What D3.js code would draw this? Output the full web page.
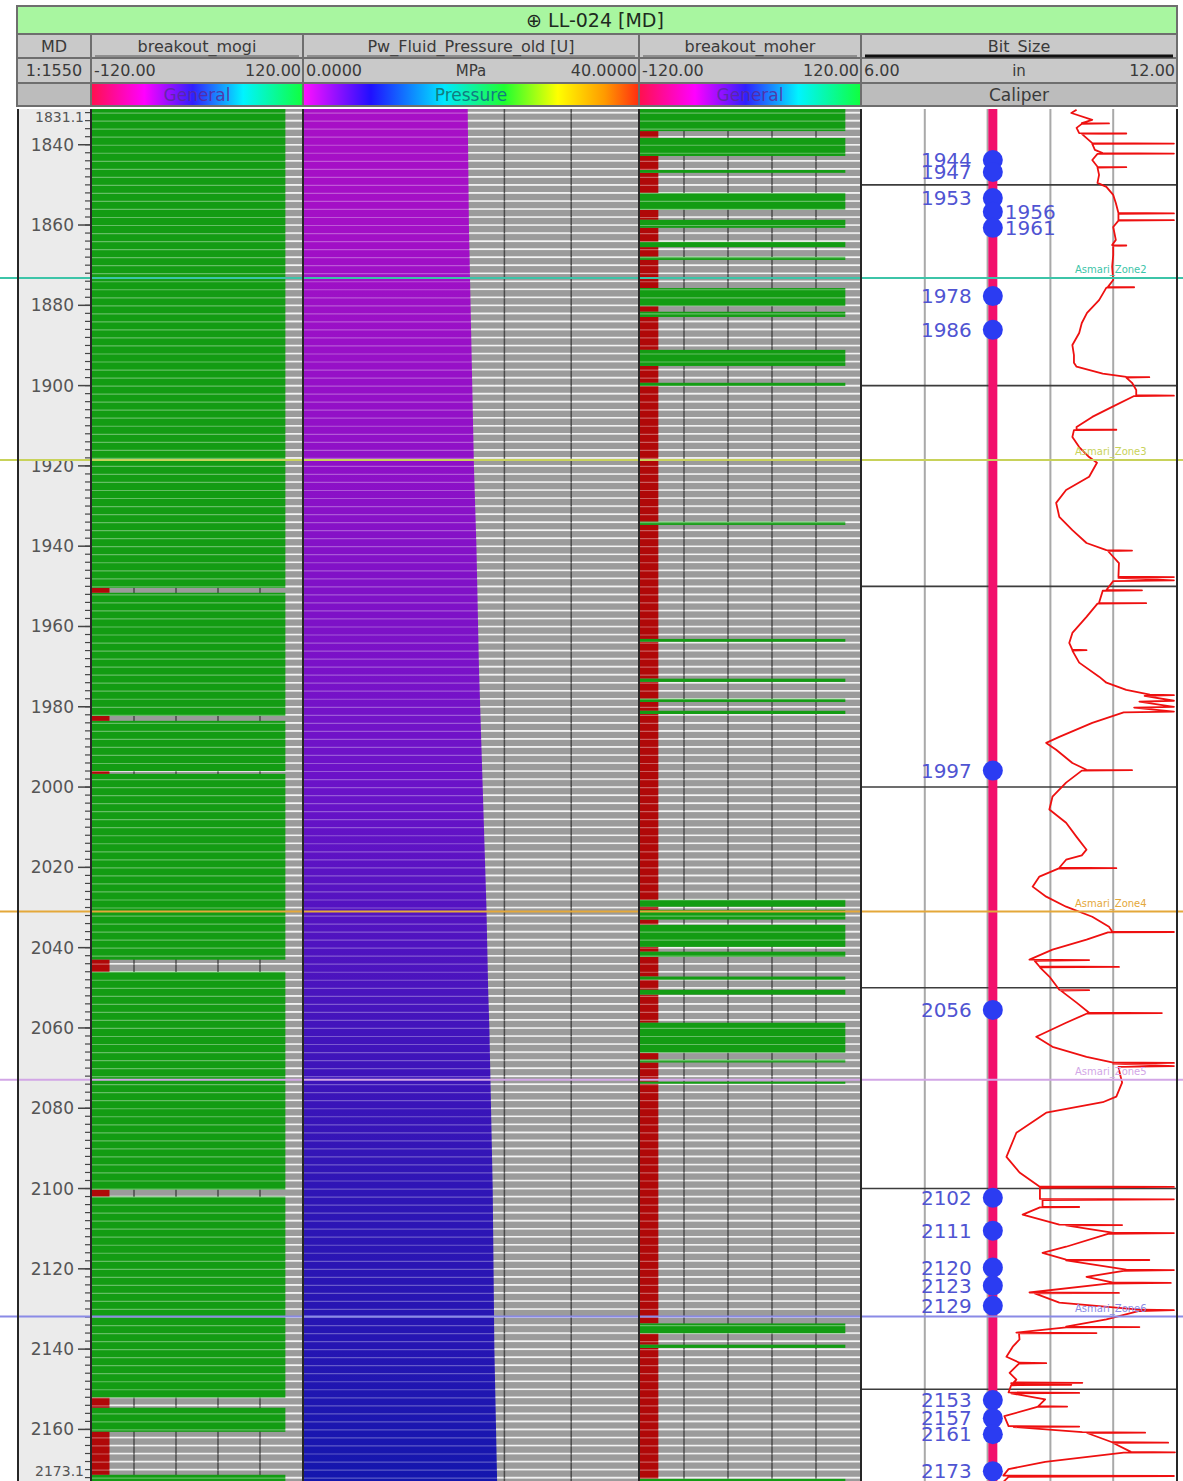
<!DOCTYPE html>
<html>
<head>
<meta charset="utf-8">
<script src="https://cdn.jsdelivr.net/npm/d3@7/dist/d3.min.js"></script>
<style>
body { margin: 0; background: #fff; }
svg { display: block; font-family: "DejaVu Sans", sans-serif; }
</style>
</head>
<body>
<div id="chart"></div>
<script>
// well / depth range
var wellName = "LL-024 [MD]";
var depthTop = 1831.1, depthBase = 2173.1;
var depthTicks = [1840, 1860, 1880, 1900, 1920, 1940, 1960, 1980, 2000, 2020, 2040, 2060, 2080, 2100, 2120, 2140, 2160];
var gridDepths = [1850, 1900, 1950, 2000, 2050, 2100, 2150];

// header
var trackNames = ["MD", "breakout_mogi", "Pw_Fluid_Pressure_old [U]", "breakout_moher", "Bit_Size"];
var scaleLeft = ["1:1550", "-120.00", "0.0000", "-120.00", "6.00"];
var scaleUnit = ["", "", "MPa", "", "in"];
var scaleRight = ["", "120.00", "40.0000", "120.00", "12.00"];
var paletteNames = ["", "General", "Pressure", "General", "Caliper"];

// breakout flags: +100 = breakout (green), -100 = none (red)
var breakoutYes = 101, breakoutNo = -100;
var mogiRedTop  = [1950.4, 1982.3, 1996.0, 2043.0, 2100.3, 2152.1, 2160.6];
var mogiRedBase = [1951.6, 1983.5, 1996.7, 2046.0, 2102.0, 2154.6, 2171.3];
var moherGreenTop  = [1831.1, 1838.3, 1846.3, 1852.0, 1858.7, 1864.2, 1867.9, 1875.7, 1881.6, 1891.1, 1899.3, 1933.9, 1963.1, 1973.0, 1978.0, 1981.0, 2028.1, 2030.6, 2034.3, 2041.0, 2047.2, 2050.5, 2058.7, 2067.9, 2073.4, 2133.6, 2138.9, 2172.3];
var moherGreenBase = [1836.6, 1842.8, 1847.0, 1856.2, 1860.7, 1865.5, 1868.7, 1880.2, 1882.9, 1895.1, 1900.1, 1934.7, 1963.8, 1973.8, 1978.8, 1981.8, 2029.8, 2033.0, 2039.8, 2042.3, 2048.0, 2051.7, 2066.2, 2068.6, 2073.9, 2136.1, 2139.7, 2173.1];

// fluid pressure (MPa)
var pressDepth = [1830, 1840, 1850, 1860, 1870, 1880, 1890, 1900, 1910, 1920, 1930, 1940, 1950, 1960, 1970, 1980, 1990, 2000, 2010, 2020, 2030, 2040, 2050, 2060, 2070, 2080, 2090, 2100, 2110, 2120, 2130, 2140, 2150, 2160, 2170, 2175];
var pressValue = [19.6, 19.65, 19.7, 19.75, 19.85, 19.95, 20.05, 20.15, 20.25, 20.35, 20.5, 20.65, 20.75, 20.85, 20.95, 21.1, 21.25, 21.4, 21.55, 21.7, 21.85, 21.95, 22.05, 22.2, 22.3, 22.4, 22.5, 22.6, 22.65, 22.7, 22.75, 22.8, 22.9, 23.0, 23.1, 23.15];

// bit size and caliper (in)
var bitSize = 8.5;
var caliper = [
  [1831.3, 10.1], [1832.1, 10.0], [1833.8, 10.4], [1834.6, 10.2], [1834.7, 10.72], [1834.8, 10.2], [1835.8, 10.1],
  [1837.1, 10.15], [1837.2, 11.05], [1837.3, 10.2], [1839.6, 10.4], [1839.7, 11.96], [1839.8, 10.4], [1841.3, 10.45],
  [1842.1, 10.6], [1842.2, 11.96], [1842.3, 10.5], [1843.8, 10.4], [1845.5, 10.5], [1845.6, 11.05], [1845.7, 10.5],
  [1847.5, 10.53], [1849.5, 10.5], [1850.5, 10.67], [1852.5, 10.8], [1854.5, 10.85], [1857.0, 10.9], [1857.1, 11.96],
  [1857.2, 10.9], [1858.7, 10.9], [1858.8, 11.96], [1858.9, 10.9], [1860.5, 10.8], [1863.7, 10.85], [1865.0, 10.78],
  [1865.1, 11.05], [1865.2, 10.8], [1867.5, 10.8], [1870.4, 10.78], [1873.7, 10.8], [1875.4, 10.7], [1875.5, 11.2],
  [1875.6, 10.67], [1878.7, 10.53], [1881.9, 10.3], [1884.4, 10.2], [1886.9, 10.15], [1889.9, 10.02], [1892.4, 10.05],
  [1894.3, 10.05], [1895.3, 10.1], [1897.0, 10.6], [1897.8, 11.05], [1897.9, 11.49], [1898.0, 11.05], [1899.3, 11.16],
  [1901.1, 11.24], [1902.4, 11.24], [1902.5, 11.96], [1902.6, 11.2], [1905.3, 10.78], [1907.8, 10.4], [1910.3, 10.1],
  [1910.9, 10.1], [1911.0, 10.86], [1911.1, 10.05], [1912.8, 10.02], [1915.3, 10.15], [1917.8, 10.34], [1919.2, 10.49],
  [1922.7, 10.34], [1926.0, 9.9], [1929.2, 9.71], [1932.7, 9.77], [1936.0, 10.02], [1939.2, 10.29], [1941.0, 10.67],
  [1941.1, 11.16], [1941.2, 10.7], [1944.2, 10.91], [1947.6, 10.9], [1947.7, 11.96], [1947.9, 10.9], [1948.5, 11.96],
  [1948.7, 10.8], [1950.9, 10.67], [1951.0, 11.35], [1951.1, 10.6], [1954.1, 10.53], [1954.2, 11.43], [1954.3, 10.5],
  [1957.6, 10.29], [1961.6, 10.02], [1964.1, 9.96], [1965.8, 10.02], [1965.9, 10.29], [1966.0, 10.02], [1969.0, 10.15],
  [1972.5, 10.53], [1974.0, 10.67], [1975.8, 11.05], [1977.0, 11.5], [1977.1, 11.96], [1977.3, 11.4], [1978.5, 11.96],
  [1978.7, 11.3], [1980.0, 11.96], [1980.2, 11.2], [1981.2, 11.96], [1981.4, 11.0], [1984.0, 10.4], [1987.5, 9.77],
  [1989.0, 9.52], [1990.7, 9.71], [1994.0, 10.02], [1995.7, 10.29], [1995.8, 11.16], [1995.9, 10.2], [1998.9, 9.9],
  [2002.4, 9.64], [2005.6, 9.58], [2008.9, 9.9], [2012.4, 10.1], [2015.6, 10.29], [2017.0, 10.2], [2018.1, 9.9],
  [2020.1, 9.77], [2020.2, 10.86], [2020.3, 9.75], [2022.3, 9.39], [2024.8, 9.26], [2027.3, 9.52], [2029.8, 9.9],
  [2032.3, 10.4], [2034.8, 10.72], [2036.0, 10.78], [2036.1, 11.96], [2036.2, 10.7], [2038.0, 10.29], [2040.5, 9.64],
  [2043.0, 9.2], [2043.1, 10.34], [2043.3, 9.3], [2044.7, 9.39], [2044.8, 10.91], [2044.9, 9.4], [2047.2, 9.58],
  [2050.5, 9.77], [2050.6, 10.34], [2050.7, 9.8], [2053.7, 10.1], [2056.2, 10.34], [2056.3, 11.73], [2056.4, 10.3],
  [2058.7, 9.9], [2062.2, 9.33], [2064.7, 9.64], [2067.2, 10.29], [2068.6, 10.78], [2068.7, 11.96], [2068.9, 10.8],
  [2069.5, 11.96], [2069.7, 10.9], [2070.4, 10.91], [2073.6, 10.97], [2077.1, 10.86], [2078.5, 10.6], [2081.1, 9.52],
  [2086.1, 8.95], [2092.1, 8.76], [2096.0, 9.01], [2099.5, 9.39], [2099.6, 11.96], [2099.8, 9.4], [2102.6, 9.4],
  [2102.7, 11.96], [2102.9, 9.45], [2104.5, 9.45], [2104.6, 10.15], [2104.7, 9.4], [2106.5, 9.07], [2109.0, 9.77],
  [2109.1, 10.97], [2109.2, 9.9], [2111.0, 10.78], [2111.1, 11.96], [2111.3, 10.7], [2114.5, 9.9], [2116.0, 9.45],
  [2117.7, 9.9], [2117.8, 11.49], [2117.9, 9.9], [2120.2, 11.05], [2120.3, 11.96], [2120.5, 11.0], [2122.0, 10.29],
  [2123.4, 10.78], [2123.5, 11.9], [2123.7, 10.7], [2125.9, 9.2], [2126.0, 10.91], [2126.1, 9.3], [2128.4, 9.77],
  [2130.2, 11.35], [2130.3, 11.96], [2130.5, 11.3], [2132.6, 10.67], [2134.4, 9.9], [2134.5, 11.3], [2134.6, 9.9],
  [2135.9, 8.95], [2136.0, 10.48], [2136.1, 9.0], [2137.6, 9.01], [2139.4, 8.88], [2141.9, 8.76], [2143.4, 9.01],
  [2143.5, 9.52], [2143.6, 9.0], [2145.9, 8.82], [2147.6, 8.95], [2148.3, 8.9], [2148.4, 10.21], [2148.5, 8.85],
  [2148.9, 10.0], [2149.0, 8.85], [2150.8, 8.8], [2150.9, 10.15], [2151.0, 8.85], [2152.5, 9.5], [2154.2, 9.37],
  [2154.3, 9.92], [2154.4, 9.35], [2156.7, 8.72], [2159.2, 8.8], [2159.3, 10.15], [2159.4, 8.9], [2160.7, 10.21],
  [2160.8, 11.41], [2160.9, 10.3], [2163.2, 10.78], [2163.3, 11.85], [2163.4, 10.8], [2165.6, 11.14], [2165.7, 11.98],
  [2165.8, 11.0], [2168.1, 9.5], [2169.9, 8.8], [2171.5, 8.7], [2171.6, 11.96], [2171.8, 8.8], [2173.1, 8.7]
];

// markers on the bit size line
var dotDepth = [1843.8, 1846.8, 1853.3, 1856.7, 1860.7, 1877.7, 1886.1, 1995.9, 2055.5, 2102.3, 2110.5, 2119.7, 2124.2, 2129.2, 2152.7, 2157.2, 2161.2, 2170.4];
var dotLabel = ["1944", "1947", "1953", "1956", "1961", "1978", "1986", "1997", "2056", "2102", "2111", "2120", "2123", "2129", "2153", "2157", "2161", "2173"];
var rightLabels = ["1956", "1961"];

// formation tops
var zoneDepth = [1873.2, 1918.5, 2031.0, 2072.9, 2131.9];
var zoneName = ["Asmari_Zone2", "Asmari_Zone3", "Asmari_Zone4", "Asmari_Zone5", "Asmari_Zone6"];
var zoneColor = ["#3cc4a8", "#c8d25a", "#e4a83a", "#d2a6e6", "#8a8ae6"];

var width = 1183, height = 1481;
var tracks = [[18, 90], [92, 302], [304, 638], [640, 860], [862, 1176]];

var svg = d3.select('#chart').append('svg')
  .attr('width', width)
  .attr('height', height);

var defs = svg.append('defs');

var y = d3.scaleLinear().domain([depthTop, depthBase]).range([109, 1482]);
var xMogi = d3.scaleLinear().domain([-120, 120]).range([92, 302]);
var xPress = d3.scaleLinear().domain([0, 40]).range([304, 638]);
var xMoher = d3.scaleLinear().domain([-120, 120]).range([640, 860]);
var xCal = d3.scaleLinear().domain([6, 12]).range([862, 1176]);

function addGradient(id, stops) {
  var g = defs.append('linearGradient').attr('id', id);
  stops.forEach(function(s) {
    g.append('stop').attr('offset', s[0]).attr('stop-color', s[1]);
  });
}
addGradient('general', [[0, '#ff1050'], [0.25, '#ff00ff'], [0.48, '#3020ff'], [0.72, '#00f4ff'], [1, '#10ff40']]);
addGradient('pressure', [[0, '#ff10ff'], [0.2, '#2010ff'], [0.42, '#00e8ff'], [0.6, '#20ff30'], [0.76, '#ffff00'], [0.9, '#ff9a00'], [1, '#ff3010']]);

// ---------- header ----------
var hdr = svg.append('g');
hdr.append('rect').attr('x', 16).attr('y', 5).attr('width', 1162).attr('height', 102).attr('fill', '#6e6e6e');
hdr.append('rect').attr('x', 18).attr('y', 7).attr('width', 1158).attr('height', 26).attr('fill', '#a8f6a0');
hdr.append('text')
  .attr('x', 595).attr('y', 27)
  .attr('text-anchor', 'middle')
  .attr('font-size', 19)
  .attr('fill', '#1e2a1e')
  .text('\u2295 ' + wellName);

var rows = [[35, 22], [59, 23], [84, 21]];
tracks.forEach(function(t, i) {
  var w = t[1] - t[0];
  hdr.append('rect').attr('x', t[0]).attr('y', rows[0][0]).attr('width', w).attr('height', rows[0][1]).attr('fill', '#c9c9c9');
  hdr.append('rect').attr('x', t[0]).attr('y', rows[1][0]).attr('width', w).attr('height', rows[1][1]).attr('fill', '#c9c9c9');
  var fill = paletteNames[i] === 'General' ? 'url(#general)' : paletteNames[i] === 'Pressure' ? 'url(#pressure)' : '#bcbcbc';
  hdr.append('rect').attr('x', t[0]).attr('y', rows[2][0]).attr('width', w).attr('height', rows[2][1]).attr('fill', fill);

  hdr.append('text')
    .attr('x', (t[0] + t[1]) / 2).attr('y', 52)
    .attr('text-anchor', 'middle').attr('font-size', 16).attr('fill', '#3a3a3a')
    .text(trackNames[i]);

  if (i > 0) {
    hdr.append('line')
      .attr('x1', t[0] + 3).attr('x2', t[1] - 3)
      .attr('y1', 56).attr('y2', 56)
      .attr('stroke', i === 4 ? '#111' : '#555')
      .attr('stroke-width', i === 4 ? 3 : 1);
  }

  if (i === 0) {
    hdr.append('text').attr('x', (t[0] + t[1]) / 2).attr('y', 76)
      .attr('text-anchor', 'middle').attr('font-size', 16).attr('fill', '#3a3a3a')
      .text(scaleLeft[i]);
  } else {
    hdr.append('text').attr('x', t[0] + 2).attr('y', 76)
      .attr('font-size', 16).attr('fill', '#3a3a3a').text(scaleLeft[i]);
    hdr.append('text').attr('x', t[1] - 1).attr('y', 76)
      .attr('text-anchor', 'end').attr('font-size', 16).attr('fill', '#3a3a3a').text(scaleRight[i]);
    hdr.append('text').attr('x', (t[0] + t[1]) / 2).attr('y', 76)
      .attr('text-anchor', 'middle').attr('font-size', 15).attr('fill', '#3a3a3a').text(scaleUnit[i]);
  }

  hdr.append('text')
    .attr('x', (t[0] + t[1]) / 2).attr('y', 101)
    .attr('text-anchor', 'middle').attr('font-size', 17)
    .attr('fill', paletteNames[i] === 'General' ? '#5a2a9a' : paletteNames[i] === 'Pressure' ? '#127c80' : '#3a3a3a')
    .attr('fill-opacity', paletteNames[i] === 'General' ? 0.85 : 1)
    .text(paletteNames[i]);
});

// ---------- data area ----------
defs.append('clipPath').attr('id', 'dataClip')
  .append('rect').attr('x', 0).attr('y', 109).attr('width', width).attr('height', 1373);

var body = svg.append('g').attr('clip-path', 'url(#dataClip)');
var rowDepths = d3.range(1832, 2174, 2);

function complement(tops, bases) {
  var out = [], cur = depthTop;
  tops.forEach(function(t, i) {
    if (t > cur) out.push([cur, t]);
    cur = Math.max(cur, bases[i]);
  });
  if (cur < depthBase) out.push([cur, depthBase]);
  return out;
}

function greyTrack(t, xs, gridVals) {
  var g = body.append('g');
  g.append('rect').attr('x', t[0]).attr('y', 109).attr('width', t[1] - t[0]).attr('height', 1373).attr('fill', '#9b9b9b');
  g.selectAll('line.row').data(rowDepths).enter().append('line')
    .attr('x1', t[0]).attr('x2', t[1])
    .attr('y1', function(d) { return y(d); }).attr('y2', function(d) { return y(d); })
    .attr('stroke', '#eeeeee').attr('stroke-width', 1.6);
  g.selectAll('line.grid').data(gridVals).enter().append('line')
    .attr('x1', function(d) { return xs(d); }).attr('x2', function(d) { return xs(d); })
    .attr('y1', 109).attr('y2', 1482)
    .attr('stroke', '#4a4a4a').attr('stroke-width', 1.5);
  return g;
}

function bars(g, xs, intervals, value, color) {
  g.selectAll(null).data(intervals).enter().append('rect')
    .attr('x', xs(-120))
    .attr('y', function(d) { return y(d[0]); })
    .attr('width', xs(value) - xs(-120))
    .attr('height', function(d) { return Math.max(1.5, y(d[1]) - y(d[0])); })
    .attr('fill', color);
}

function stripes(g, x0, x1, op) {
  g.selectAll(null).data(rowDepths).enter().append('line')
    .attr('x1', x0).attr('x2', x1)
    .attr('y1', function(d) { return y(d) + 0.5; }).attr('y2', function(d) { return y(d) + 0.5; })
    .attr('stroke', '#ffffff').attr('stroke-opacity', op).attr('stroke-width', 1.2);
}

// breakout_mogi
var gMogi = greyTrack(tracks[1], xMogi, d3.range(-72, 120, 48));
var mogiRed = mogiRedTop.map(function(d, i) { return [d, mogiRedBase[i]]; });
bars(gMogi, xMogi, complement(mogiRedTop, mogiRedBase), breakoutYes, '#139c13');
bars(gMogi, xMogi, mogiRed, breakoutNo, '#b00808');
stripes(gMogi, tracks[1][0], tracks[1][1], 0.35);

// pressure
var gPress = greyTrack(tracks[2], xPress, d3.range(8, 40, 8));
var pColor = d3.scaleLinear().domain([19.6, 21.4, 23.1]).range(['#a80fc6', '#6a12c8', '#1616ae']);
var pGrad = defs.append('linearGradient').attr('id', 'pfill')
  .attr('gradientUnits', 'userSpaceOnUse')
  .attr('x1', 0).attr('x2', 0).attr('y1', y(depthTop)).attr('y2', y(depthBase));
pressDepth.forEach(function(d, i) {
  var off = (y(d) - y(depthTop)) / (y(depthBase) - y(depthTop));
  pGrad.append('stop').attr('offset', Math.max(0, Math.min(1, off))).attr('stop-color', pColor(pressValue[i]));
});
var pressArea = d3.area()
  .y(function(d) { return y(d[0]); })
  .x0(xPress(0))
  .x1(function(d) { return xPress(d[1]); });
gPress.append('path')
  .datum(pressDepth.map(function(d, i) { return [d, pressValue[i]]; }))
  .attr('d', pressArea)
  .attr('fill', 'url(#pfill)');
stripes(gPress, tracks[2][0], tracks[2][1], 0.3);

// breakout_moher
var gMoher = greyTrack(tracks[3], xMoher, d3.range(-72, 120, 48));
var moherGreen = moherGreenTop.map(function(d, i) { return [d, moherGreenBase[i]]; });
bars(gMoher, xMoher, complement(moherGreenTop, moherGreenBase), breakoutNo, '#b00808');
bars(gMoher, xMoher, moherGreen, breakoutYes + 3, '#139c13');
stripes(gMoher, tracks[3][0], tracks[3][1], 0.35);

// MD track
var gMd = body.append('g');
gMd.append('rect').attr('x', 18).attr('y', 109).attr('width', 72).attr('height', 1373).attr('fill', '#ebebeb');
gMd.selectAll(null).data(rowDepths).enter().append('line')
  .attr('x1', 85).attr('x2', 90)
  .attr('y1', function(d) { return y(d); }).attr('y2', function(d) { return y(d); })
  .attr('stroke', '#444').attr('stroke-width', 1.2);
gMd.selectAll(null).data(depthTicks).enter().append('line')
  .attr('x1', 78).attr('x2', 90)
  .attr('y1', function(d) { return y(d); }).attr('y2', function(d) { return y(d); })
  .attr('stroke', '#444').attr('stroke-width', 1.5);
gMd.selectAll(null).data(depthTicks).enter().append('text')
  .attr('x', 74).attr('y', function(d) { return y(d) + 6; })
  .attr('text-anchor', 'end').attr('font-size', 17).attr('fill', '#555')
  .text(function(d) { return d; });
gMd.append('text').attr('x', 84).attr('y', 122).attr('text-anchor', 'end')
  .attr('font-size', 14).attr('fill', '#555').text(depthTop.toFixed(1));
gMd.append('text').attr('x', 84).attr('y', 1476).attr('text-anchor', 'end')
  .attr('font-size', 14).attr('fill', '#555').text(depthBase.toFixed(1));

// caliper track
var gCal = body.append('g');
gCal.append('rect').attr('x', 862).attr('y', 109).attr('width', 314).attr('height', 1373).attr('fill', '#ffffff');
gCal.selectAll(null).data(d3.range(1, 5)).enter().append('line')
  .attr('x1', function(d) { return xCal(6 + d * 1.2); }).attr('x2', function(d) { return xCal(6 + d * 1.2); })
  .attr('y1', 109).attr('y2', 1482)
  .attr('stroke', '#a9a9a9').attr('stroke-width', 2);
gCal.selectAll(null).data(gridDepths).enter().append('line')
  .attr('x1', 862).attr('x2', 1176)
  .attr('y1', function(d) { return y(d); }).attr('y2', function(d) { return y(d); })
  .attr('stroke', '#3c3c3c').attr('stroke-width', 1.6);
gCal.append('line')
  .attr('x1', xCal(bitSize)).attr('x2', xCal(bitSize))
  .attr('y1', 109).attr('y2', 1482)
  .attr('stroke', '#f2106c').attr('stroke-width', 9);

// formation tops across the whole display
var gZone = body.append('g');
gZone.selectAll(null).data(zoneDepth).enter().append('line')
  .attr('x1', 0).attr('x2', width)
  .attr('y1', function(d) { return y(d); }).attr('y2', function(d) { return y(d); })
  .attr('stroke', function(d, i) { return zoneColor[i]; })
  .attr('stroke-width', 2);
gZone.selectAll(null).data(zoneDepth).enter().append('text')
  .attr('x', 1075).attr('y', function(d) { return y(d) - 5; })
  .attr('font-size', 10)
  .attr('fill', function(d, i) { return zoneColor[i]; })
  .text(function(d, i) { return zoneName[i]; });

var calLine = d3.line()
  .x(function(d) { return xCal(d[1]); })
  .y(function(d) { return y(d[0]); });
gCal.append('path')
  .datum(caliper)
  .attr('d', calLine)
  .attr('fill', 'none')
  .attr('stroke', '#ee1010')
  .attr('stroke-width', 1.8)
  .attr('stroke-linejoin', 'round');

gCal.selectAll(null).data(dotDepth).enter().append('circle')
  .attr('cx', xCal(bitSize))
  .attr('cy', function(d) { return y(d); })
  .attr('r', 10)
  .attr('fill', '#2b3cf2');
gCal.selectAll(null).data(dotDepth).enter().append('text')
  .attr('x', function(d, i) { return rightLabels.indexOf(dotLabel[i]) >= 0 ? xCal(bitSize) + 12 : xCal(bitSize) - 21; })
  .attr('y', function(d) { return y(d) + 7; })
  .attr('text-anchor', function(d, i) { return rightLabels.indexOf(dotLabel[i]) >= 0 ? 'start' : 'end'; })
  .attr('font-size', 20)
  .attr('fill', '#5054d2')
  .text(function(d, i) { return dotLabel[i]; });

// track borders
var borders = [18, 91, 303, 639, 861, 1177];
body.selectAll(null).data(borders).enter().append('line')
  .attr('x1', function(d) { return d; }).attr('x2', function(d) { return d; })
  .attr('y1', 109).attr('y2', 1482)
  .attr('stroke', '#262626').attr('stroke-width', 2);
</script>
</body>
</html>
